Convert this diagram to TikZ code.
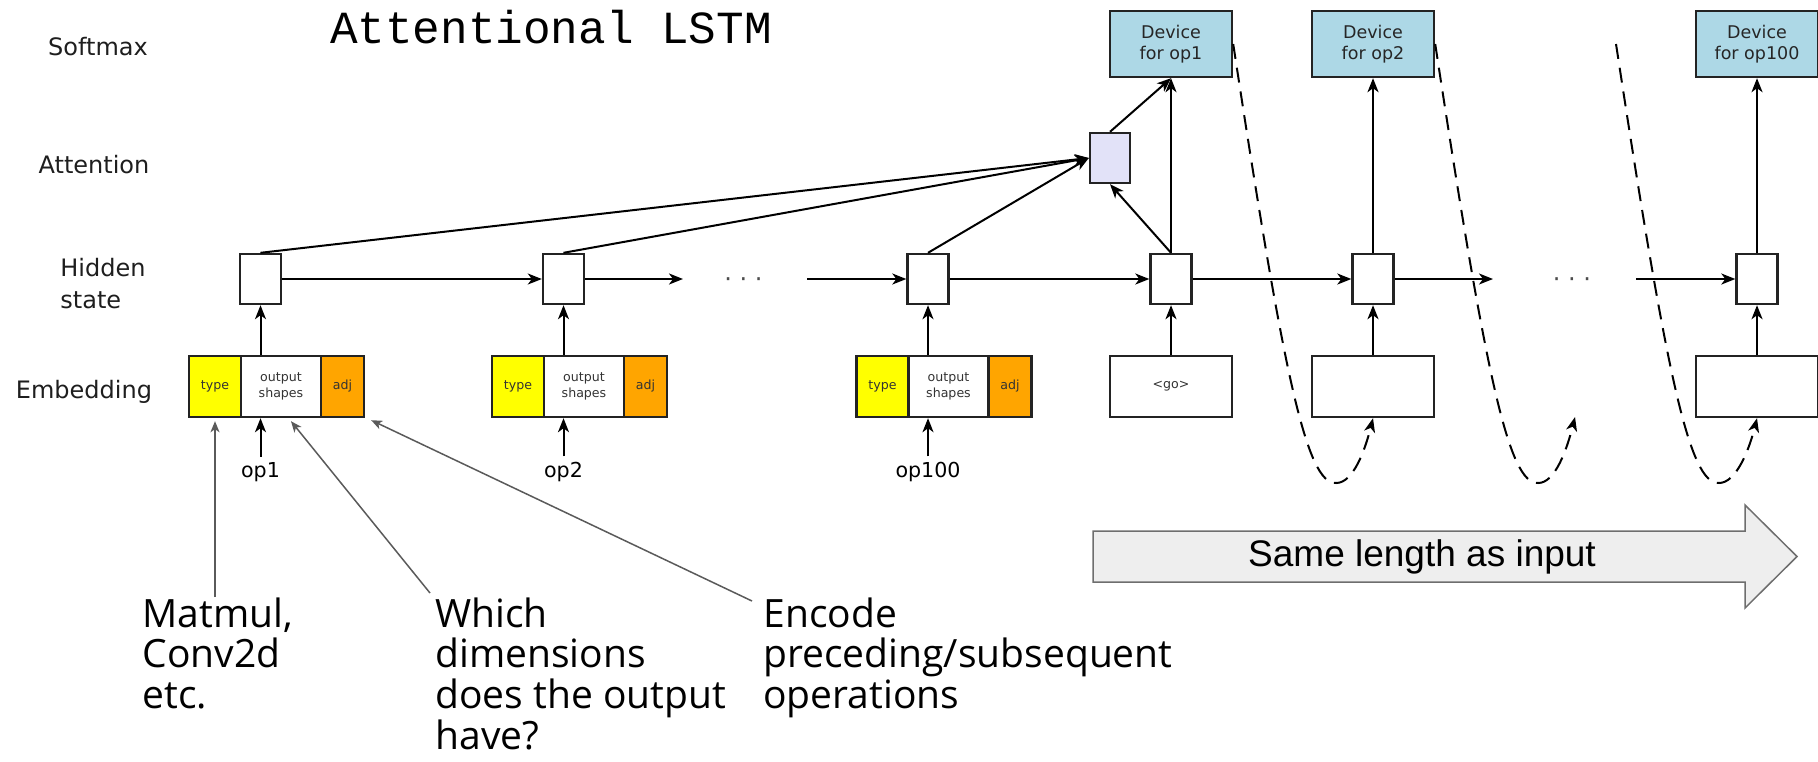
\documentclass[tikz,border=0pt]{standalone}
\usepackage{fontspec}
\usetikzlibrary{arrows.meta,calc}
\newfontfamily\dejavu{DejaVu Sans}
\newfontfamily\opensans{Open Sans}
\newfontfamily\libmono{Liberation Mono}
\newfontfamily\libsans{Liberation Sans}
\definecolor{devblue}{RGB}{173,216,230}
\definecolor{attfill}{RGB}{226,226,248}
\definecolor{typeyellow}{RGB}{255,255,0}
\definecolor{adjorange}{RGB}{255,165,0}
\definecolor{boxline}{RGB}{35,35,35}
\definecolor{notegray}{RGB}{90,90,90}
\definecolor{bigfill}{RGB}{238,238,238}
\definecolor{bigline}{RGB}{110,110,110}
\definecolor{labtext}{RGB}{30,30,30}

\tikzset{
  arr/.style={line width=1pt, -{Stealth[length=7pt,width=5.5pt,inset=2pt]}},
  dcurve/.style={line width=1pt, dash pattern=on 7.5pt off 4.5pt,
    -{Stealth[length=7pt,width=5.5pt,inset=2pt]}},
  note/.style={draw=notegray, line width=0.75pt,
    -{Stealth[length=5.5pt,width=4.5pt,inset=1.5pt]}},
  rowlab/.style={inner sep=0pt, text=labtext, font=\dejavu\fontsize{12}{16}\selectfont},
  hid/.style={draw=boxline, fill=white, line width=1.2pt, minimum width=20.5pt,
    minimum height=25pt, inner sep=0pt},
  attbox/.style={hid, fill=attfill, minimum width=20pt},
  cell/.style={draw=boxline, line width=1.2pt, minimum height=30.5pt, inner sep=0pt,
    align=center, text=black!80, font=\dejavu\fontsize{6.3}{8}\selectfont},
  devbox/.style={draw=boxline, fill=devblue, line width=1.2pt, minimum width=61pt,
    minimum height=33pt, inner sep=0pt, align=center, text=black!85,
    font=\dejavu\fontsize{8.75}{10.5}\selectfont},
  inbox/.style={cell, fill=white, minimum width=61pt},
  oplab/.style={anchor=base, inner sep=2.5pt, font=\dejavu\fontsize{10.3}{12}\selectfont},
  dots/.style={anchor=base, inner sep=0pt, text=black!70, font=\dejavu\fontsize{12}{14}\selectfont},
  annot/.style={anchor=north west, inner sep=0pt, align=left,
    font=\opensans\fontsize{19.5}{20.4}\selectfont},
  bigarrow/.style={draw=bigline, fill=bigfill, line width=0.75pt}
}

\begin{document}
\begin{tikzpicture}[x=0.5pt, y=-0.5pt]
\useasboundingbox (0,0) rectangle (1818,761);

% title and row labels
\node[anchor=base, inner sep=0pt, font=\libmono\fontsize{23}{27}\selectfont] (title) at (551,43) {Attentional LSTM};
\node[rowlab, anchor=base] (lsoft) at (98,55) {Softmax};
\node[rowlab, anchor=base] (latt) at (94,173) {Attention};
\node[rowlab, anchor=north west, align=left] (lhid) at (60,258) {Hidden\\state};
\node[rowlab, anchor=base] (lemb) at (84,398) {Embedding};

% encoder: embeddings, inputs and hidden states
\foreach \i/\x/\lab in {1/260.5/op1, 2/563.5/op2, 3/928/op100}{
  \node[hid] (hid\i) at (\x,279) {};
  \node[cell, fill=typeyellow, minimum width=26pt] (type\i) at ({\x-45.5},386.5) {type};
  \node[cell, fill=white, minimum width=40pt] (outs\i) at ({\x+20.5},386.5) {output\\shapes};
  \node[cell, fill=adjorange, minimum width=21.5pt] (adj\i) at ({\x+82},386.5) {adj};
  \node[oplab] (op\i) at (\x,477) {\lab};
  \draw[arr] (op\i.north) -- (op\i.north |- outs\i.south);
  \draw[arr] (hid\i.south |- outs\i.north) -- (hid\i.south);
}

% decoder: inputs, hidden states and device outputs
\foreach \i/\j/\x/\lab in {1/4/1171/op1, 2/5/1373/op2, 3/6/1757/op100}{
  \node[hid] (hid\j) at (\x,279) {};
  \node[devbox] (dev\i) at (\x,44) {Device\\for \lab};
  \node[inbox] (in\i) at (\x,386.5) {};
  \draw[arr] (in\i.north) -- (hid\j.south);
}
\node[inner sep=0pt, text=black!80, font=\dejavu\fontsize{6.3}{8}\selectfont] (go) at (in1.center) {<go>};
\draw[arr] (hid5.north) -- (dev2.south);
\draw[arr] (hid6.north) -- (dev3.south);

% attention
\node[attbox] (att) at (1110,158) {};
\foreach \i in {1,2,3}{
  \draw[arr] (hid\i.north) -- (att.west);
}
\draw[arr] (hid4.north) -- (att.south);
\draw[arr] (att.north) -- (dev1.south);
\draw[arr] (hid4.north) -- (dev1.south);

% recurrent chain
\coordinate (gapA) at (683,279);
\coordinate (gapB) at (807,279);
\coordinate (gapC) at (1493,279);
\coordinate (gapD) at (1636,279);
\draw[arr] (hid1.east) -- (hid2.west);
\draw[arr] (hid2.east) -- (gapA);
\draw[arr] (gapB) -- (hid3.west);
\draw[arr] (hid3.east) -- (hid4.west);
\draw[arr] (hid4.east) -- (hid5.west);
\draw[arr] (hid5.east) -- (gapC);
\draw[arr] (gapD) -- (hid6.west);
\node[dots] (dotsA) at (743.5,287) {· · ·};
\node[dots] (dotsB) at (1572,287) {· · ·};

% feedback of each prediction into the next step
\coordinate (loopEnd) at (1575,417);
\coordinate (loopStart) at (1616,44);
\draw[dcurve] (dev1.east) .. controls +(50,328) and +(-30,2) .. ($(dev1.east)+(103,439)$)
  .. controls +(17,0) and +(-8,32) .. (in2.south);
\draw[dcurve] (dev2.east) .. controls +(50,328) and +(-30,2) .. ($(dev2.east)+(103,439)$)
  .. controls +(17,0) and +(-8,32) .. (loopEnd);
\draw[dcurve] (loopStart) .. controls +(50,328) and +(-30,2) .. ($(loopStart)+(103,439)$)
  .. controls +(17,0) and +(-8,32) .. (in3.south);

% output length arrow
\draw[bigarrow] (1093,531) -- (1745,531) -- (1745,505) -- (1797,556.5) -- (1745,608)
  -- (1745,582) -- (1093,582) -- cycle;
\node[inner sep=0pt, font=\libsans\fontsize{18.5}{22}\selectfont] (samelen) at (1422,557) {Same length as input};

% annotations of the embedding parts
\node[annot] (noteType) at (142,597) {Matmul,\\Conv2d\\etc.};
\node[annot] (noteShape) at (435,597) {Which\\dimensions\\does the output\\have?};
\node[annot] (noteAdj) at (763,597) {Encode\\preceding/subsequent\\operations};
\draw[note, shorten >=1.5pt] (type1.south |- noteType.north) -- (type1.south);
\draw[note] ([xshift=-2.5pt,yshift=2pt]noteShape.north west) -- ([xshift=5pt,yshift=-1.5pt]outs1.south);
\draw[note] ([xshift=-5.5pt,yshift=-2pt]noteAdj.north west) -- ([xshift=3pt,yshift=-1pt]adj1.south east);
\end{tikzpicture}
\end{document}
